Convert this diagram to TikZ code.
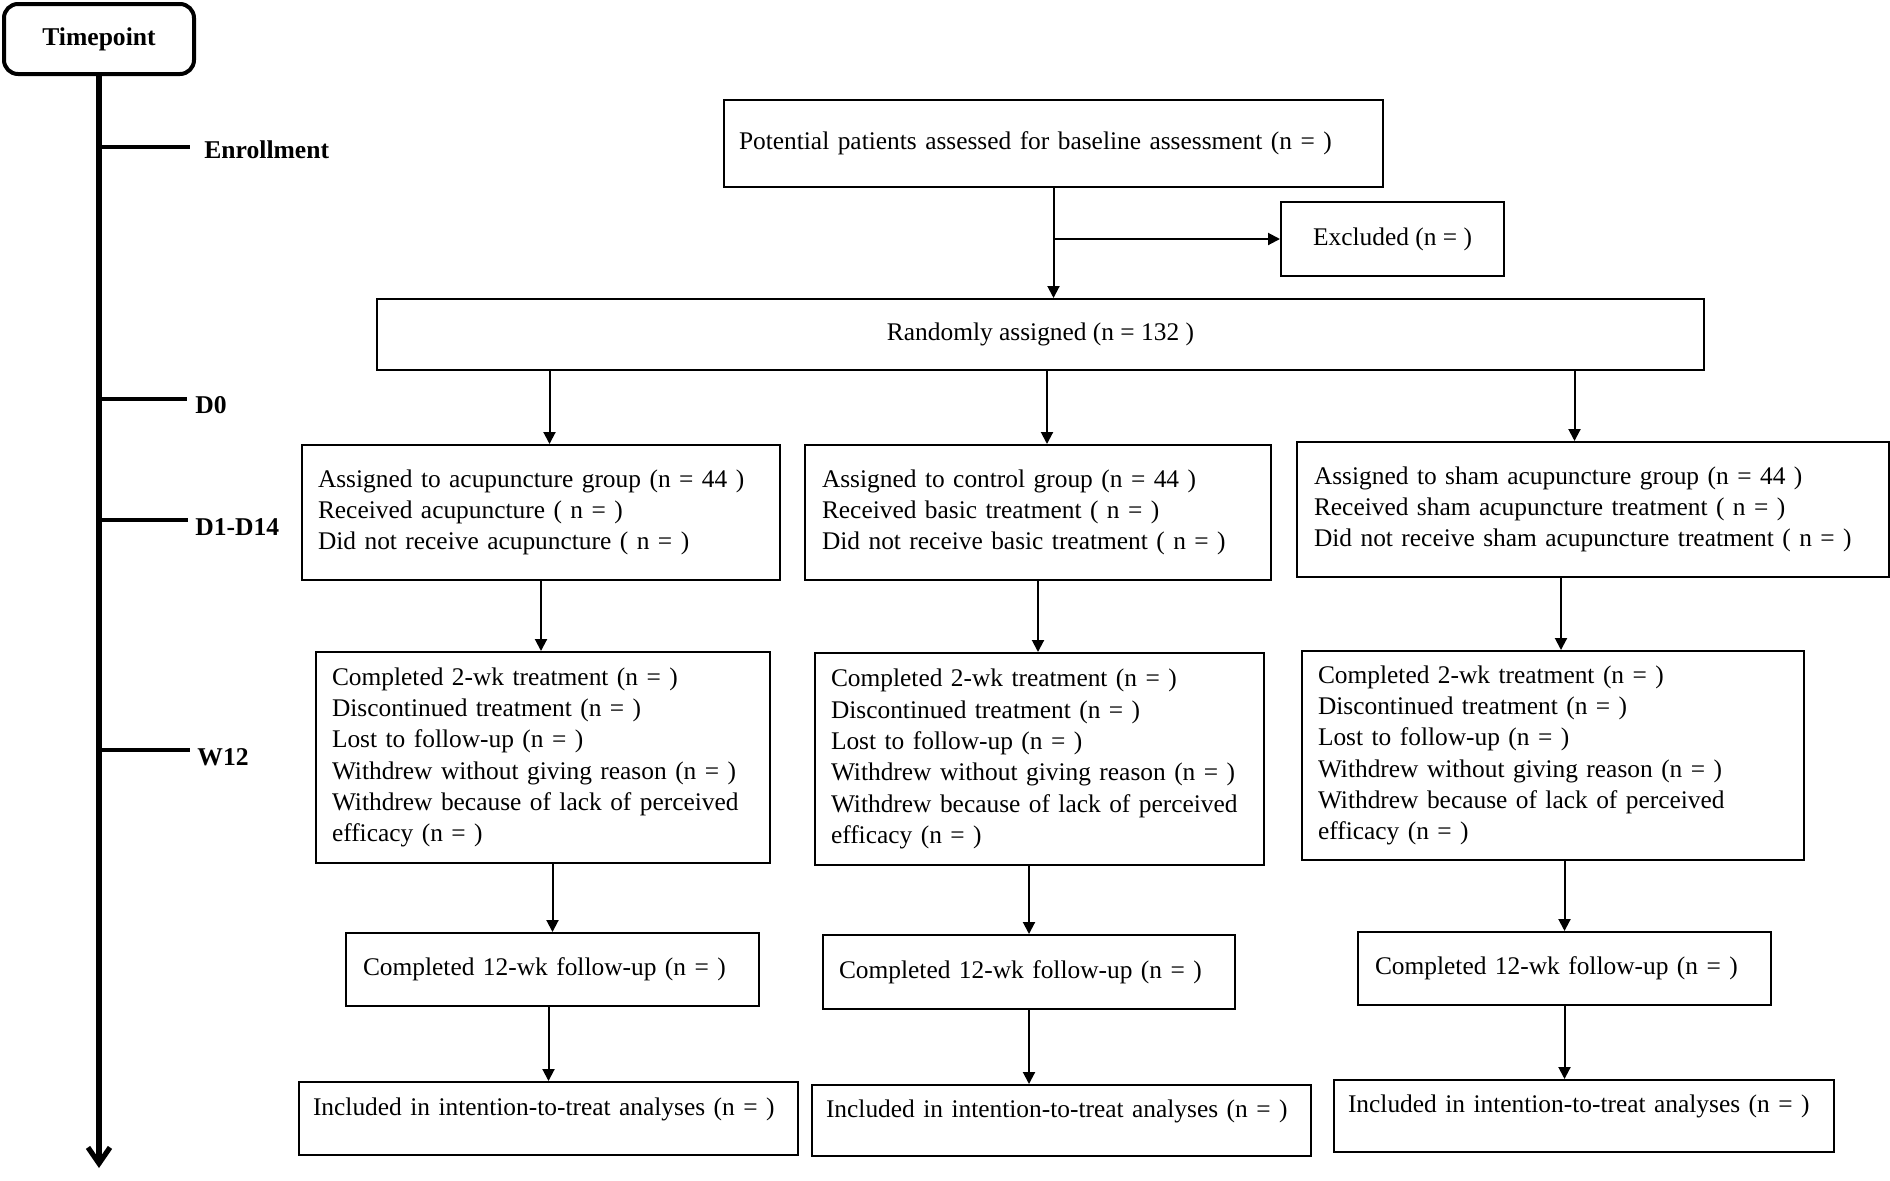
\documentclass[tikz,border=0pt]{standalone}
\usepackage{fontspec}
\setmainfont{Liberation Serif}
\usetikzlibrary{arrows.meta}
\begin{document}
\begin{tikzpicture}[x=0.5pt,y=-0.5pt,
  every node/.style={font=\fontsize{12.7}{15.65}\selectfont},
  box/.style={draw, line width=1pt, inner ysep=0pt, anchor=north west},
  lbox/.style={box, align=left},
  cbox/.style={box, align=center},
  arr/.style={draw, line width=1pt, -{Triangle[length=6pt,width=6pt]}},
  tl/.style={anchor=west, inner sep=0pt, font=\fontsize{12.8}{15.65}\selectfont\bfseries},
  tick/.style={line width=2.2pt},
  axis/.style={line width=2.6pt, -{Straight Barb[length=8pt,width=11pt]}}
]
\useasboundingbox (0,0) rectangle (1890,1180);
\fill[white] (0,0) rectangle (1890,1180);

% timeline
\node[draw, line width=2pt, rounded corners=7pt, minimum width=95pt, minimum height=35pt,
      font=\fontsize{12.8}{15.65}\selectfont\bfseries] (T) at (99,39) {Timepoint};
\coordinate (tend) at (102,1168);
\draw[axis] (T.south) -- (T.south |- tend);

\node[tl] (L1) at (204,150) {Enrollment};
\node[tl] (L2) at (195,405) {D0};
\node[tl] (L3) at (195,527) {D1-D14};
\node[tl] (L4) at (197,757) {W12};
\coordinate (k1) at (190,147);
\coordinate (k2) at (187,399);
\coordinate (k3) at (188,520);
\coordinate (k4) at (190,750);
\draw[tick] (k1 -| T.south) -- (k1);
\draw[tick] (k2 -| T.south) -- (k2);
\draw[tick] (k3 -| T.south) -- (k3);
\draw[tick] (k4 -| T.south) -- (k4);

% top boxes
\node[lbox, inner xsep=7.5pt, text width=314.5pt, minimum height=43.5pt] (P) at (723,99)
  {\mbox{Potential patients assessed for baseline assessment (n = )}};
\node[cbox, minimum width=111.5pt, minimum height=37pt] (E) at (1280,201) {Excluded (n = )};
\node[cbox, minimum width=663.5pt, minimum height=35.5pt] (R) at (376,298) {Randomly assigned (n = 132 )};

\draw[arr] (P.south) -- (P.south |- R.north);
\draw[arr] (P.south |- E.west) -- (E.west);

% row 1
\node[lbox, inner xsep=8pt, text width=223pt, minimum height=67.5pt] (A1) at (301,444)
  {Assigned to acupuncture group (n = 44 )\\Received acupuncture ( n = )\\Did not receive acupuncture ( n = )};
\node[lbox, inner xsep=8.5pt, text width=216pt, minimum height=67.5pt] (B1) at (804,444)
  {Assigned to control group (n = 44 )\\Received basic treatment ( n = )\\Did not receive basic treatment ( n = )};
\node[lbox, inner xsep=8.5pt, text width=279pt, minimum height=67.5pt] (C1) at (1296,441)
  {Assigned to sham acupuncture group (n = 44 )\\Received sham acupuncture treatment ( n = )\\\mbox{Did not receive sham acupuncture treatment ( n = )}};

\draw[arr] ([xshift=4.25pt]A1.north |- R.south) -- ([xshift=4.25pt]A1.north);
\draw[arr] ([xshift=4.5pt]B1.north |- R.south) -- ([xshift=4.5pt]B1.north);
\draw[arr] ([xshift=-9.25pt]C1.north |- R.south) -- ([xshift=-9.25pt]C1.north);

% row 2
\node[lbox, inner xsep=8pt, text width=211pt, minimum height=105.5pt] (A2) at (315,651)
  {Completed 2-wk treatment (n = )\\Discontinued treatment (n = )\\Lost to follow-up (n = )\\Withdrew without giving reason (n = )\\\mbox{Withdrew because of lack of perceived}\\efficacy (n = )};
\node[lbox, inner xsep=8pt, text width=208.5pt, minimum height=106pt] (B2) at (814,652)
  {Completed 2-wk treatment (n = )\\Discontinued treatment (n = )\\Lost to follow-up (n = )\\Withdrew without giving reason (n = )\\\mbox{Withdrew because of lack of perceived}\\efficacy (n = )};
\node[lbox, inner xsep=8pt, text width=235pt, minimum height=104.5pt] (C2) at (1301,650)
  {Completed 2-wk treatment (n = )\\Discontinued treatment (n = )\\Lost to follow-up (n = )\\Withdrew without giving reason (n = )\\\mbox{Withdrew because of lack of perceived}\\efficacy (n = )};

\draw[arr] (A1.south) -- (A1.south |- A2.north);
\draw[arr] (B1.south) -- (B1.south |- B2.north);
\draw[arr] ([xshift=4pt]C2.north |- C1.south) -- ([xshift=4pt]C2.north);

% row 3
\node[lbox, inner xsep=8.5pt, text width=189.5pt, minimum height=36.5pt] (A3) at (345,932)
  {\mbox{Completed 12-wk follow-up (n = )}};
\node[lbox, inner xsep=8pt, text width=190pt, minimum height=37pt] (B3) at (822,934)
  {\mbox{Completed 12-wk follow-up (n = )}};
\node[lbox, inner xsep=8.5pt, text width=189.5pt, minimum height=36.5pt] (C3) at (1357,931)
  {\mbox{Completed 12-wk follow-up (n = )}};

\draw[arr] (A3.north |- A2.south) -- (A3.north);
\draw[arr] (B3.north |- B2.south) -- (B3.north);
\draw[arr] (C3.north |- C2.south) -- (C3.north);

% row 4
\node[lbox, inner xsep=7pt, text width=235.5pt, minimum height=36.5pt, text depth=12pt] (A4) at (298,1081)
  {\mbox{Included in intention-to-treat analyses (n = )}};
\node[lbox, inner xsep=7pt, text width=235.5pt, minimum height=35.5pt, text depth=12pt] (B4) at (811,1084)
  {\mbox{Included in intention-to-treat analyses (n = )}};
\node[lbox, inner xsep=7pt, text width=236pt, minimum height=36pt, text depth=12pt] (C4) at (1333,1079)
  {\mbox{Included in intention-to-treat analyses (n = )}};

\draw[arr] (A4.north |- A3.south) -- (A4.north);
\draw[arr] (B3.south) -- (B3.south |- B4.north);
\draw[arr] (C3.south) -- (C3.south |- C4.north);
\end{tikzpicture}
\end{document}
